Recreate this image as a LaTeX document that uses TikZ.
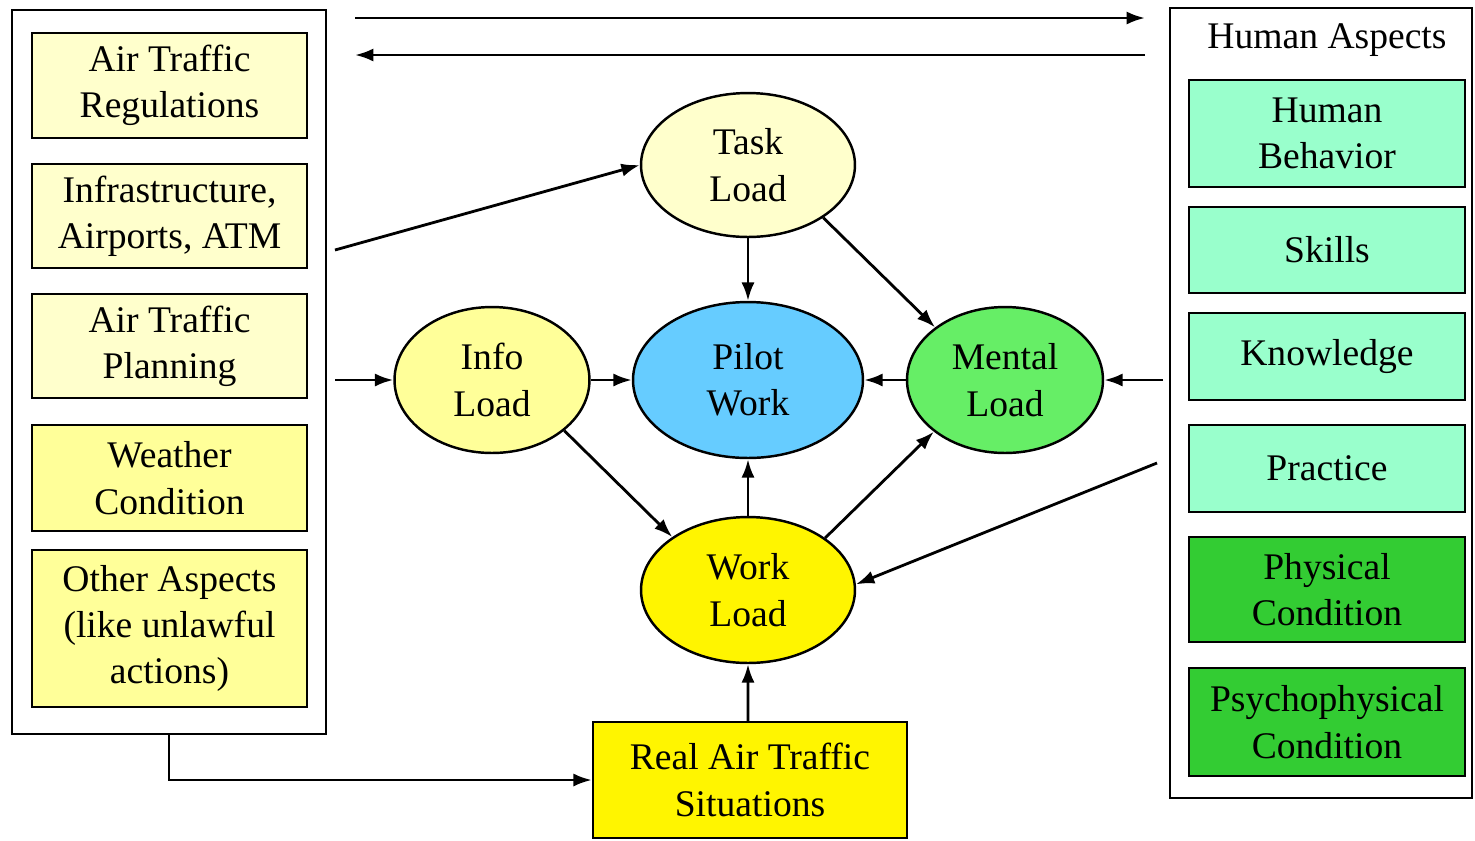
\documentclass[tikz,border=0pt]{standalone}
\usepackage{fontspec}
\setmainfont{Liberation Serif}
\usetikzlibrary{shapes.geometric,arrows.meta}

\definecolor{paleyellow}{HTML}{FFFFCC}
\definecolor{softyellow}{HTML}{FFFF99}
\definecolor{brightyellow}{HTML}{FFF500}
\definecolor{skyblue}{HTML}{66CCFF}
\definecolor{mintgreen}{HTML}{66EE66}
\definecolor{aqua}{HTML}{99FFCC}
\definecolor{deepgreen}{HTML}{33CC33}

\begin{document}
\begin{tikzpicture}[x=0.02cm,y=-0.02cm,
  every node/.style={font=\fontsize{21.4}{26.4}\selectfont, align=center, text=black},
  frame/.style={draw, line width=1.5pt, rectangle, inner sep=0pt},
  box/.style={draw, line width=1.4pt, rectangle, inner sep=0pt},
  oval/.style={draw, line width=1.4pt, ellipse, inner sep=0pt},
  link/.style={line width=1.6pt, -{Latex[length=10.5pt,width=7.5pt]}}
]
\useasboundingbox (0,0) rectangle (1475,840);

% outer frames
\node[frame, minimum width=6.28cm, minimum height=14.48cm] (leftbox) at (169,372) {};
\node[frame, minimum width=6.04cm, minimum height=15.8cm] (rightbox) at (1321,403) {};

% environment factors
\node[box, fill=paleyellow, minimum width=5.5cm, minimum height=2.1cm] (regs) at (169.5,85.5) {Air Traffic\\Regulations};
\node[box, fill=paleyellow, minimum width=5.5cm, minimum height=2.08cm] (infra) at (169.5,216) {Infrastructure,\\Airports, ATM};
\node[box, fill=paleyellow, minimum width=5.5cm, minimum height=2.08cm] (plan) at (169.5,346) {Air Traffic\\Planning};
\node[box, fill=softyellow, minimum width=5.5cm, minimum height=2.12cm] (weather) at (169.5,478) {Weather\\Condition};
\node[box, fill=softyellow, minimum width=5.5cm, minimum height=3.14cm] (other) at (169.5,628.5) {Other Aspects\\(like unlawful\\actions)};

% human aspects
\node (hatitle) at (1327,40) {Human Aspects};
\node[box, fill=aqua, minimum width=5.52cm, minimum height=2.14cm] (behav) at (1327,133.5) {Human\\Behavior};
\node[box, fill=aqua, minimum width=5.52cm, minimum height=1.72cm] (skills) at (1327,250) {Skills};
\node[box, fill=aqua, minimum width=5.52cm, minimum height=1.74cm] (know) at (1327,356.5) {Knowledge};
\node[box, fill=aqua, minimum width=5.52cm, minimum height=1.74cm] (practice) at (1327,468.5) {Practice};
\node[box, fill=deepgreen, minimum width=5.52cm, minimum height=2.1cm] (phys) at (1327,589.5) {Physical\\Condition};
\node[box, fill=deepgreen, minimum width=5.52cm, minimum height=2.16cm] (psycho) at (1327,722) {Psychophysical\\Condition};

% load model
\node[oval, fill=paleyellow, minimum width=4.28cm, minimum height=2.88cm] (task) at (748,165) {Task\\Load};
\node[oval, fill=softyellow, minimum width=3.9cm, minimum height=2.92cm] (info) at (492,380) {Info\\Load};
\node[oval, fill=skyblue, minimum width=4.6cm, minimum height=3.12cm] (pilot) at (748,380) {Pilot\\Work};
\node[oval, fill=mintgreen, minimum width=3.92cm, minimum height=2.92cm] (mental) at (1005,380) {Mental\\Load};
\node[oval, fill=brightyellow, minimum width=4.28cm, minimum height=2.92cm] (work) at (748,590) {Work\\Load};
\node[box, fill=brightyellow, minimum width=6.28cm, minimum height=2.32cm] (real) at (750,780) {Real Air Traffic\\Situations};

% free ends of connectors
\coordinate (topR1) at (355,18);
\coordinate (topR2) at (1145,18);
\coordinate (topL1) at (1145,55);
\coordinate (topL2) at (355,55);
\coordinate (fromInfra) at (335,250);
\coordinate (fromPlan) at (335,380);
\coordinate (fromKnow) at (1163,380);
\coordinate (fromPractice) at (1157,463);

% connectors
\draw[link] (topR1) -- (topR2);
\draw[link] (topL1) -- (topL2);
\draw[link] (fromInfra) -- (task.west);
\draw[link] (fromPlan) -- (info.west);
\draw[link] (fromKnow) -- (mental.east);
\draw[link] (fromPractice) -- (work.3);
\draw[link] (info.east) -- (pilot.west);
\draw[link] (mental.west) -- (pilot.east);
\draw[link] (task.south) -- (pilot.north);
\draw[link] (task.-35) -- (mental.143);
\draw[link] (info.-35) -- (work.145);
\draw[link] (work.north) -- (pilot.south);
\draw[link] (work.34) -- (mental.-144);
\draw[link] ([xshift=-0.04cm]real.north) -- (work.south);
\draw[link] (leftbox.south) |- (real.west);
\end{tikzpicture}
\end{document}
